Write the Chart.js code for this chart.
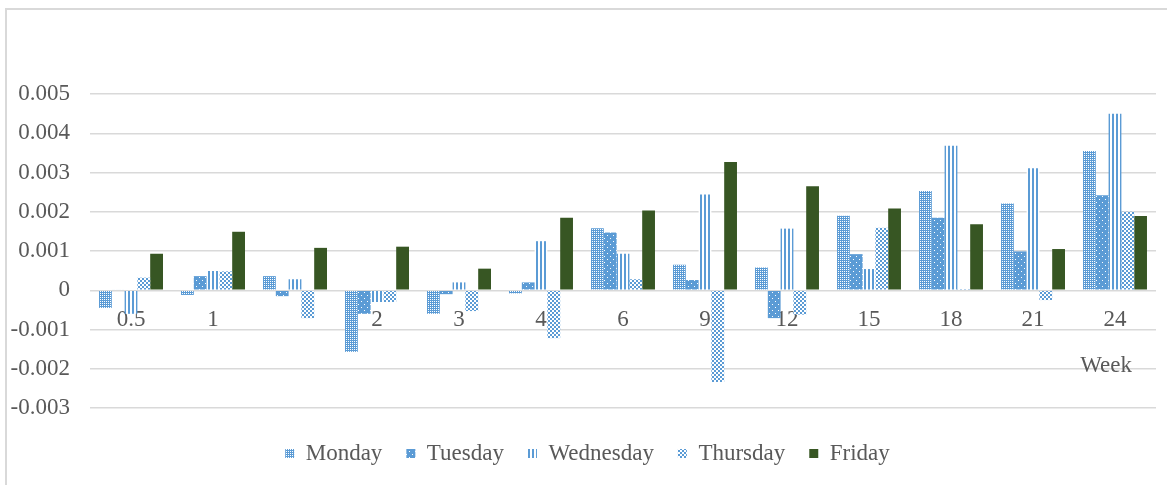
<!DOCTYPE html>
<html>
<head>
<meta charset="utf-8">
<script src="https://cdn.jsdelivr.net/npm/chart.js@4/dist/chart.umd.min.js"></script>
<style>
  html, body { margin: 0; padding: 0; background: #ffffff; }
  #wrap { position: relative; width: 1167px; height: 485px; }
</style>
</head>
<body>
<div id="wrap"><canvas id="chart" width="1167" height="485"></canvas></div>
<script>
// Weekly effect by weekday, across the study weeks
const weeks = ['0.5', '1', '', '2', '3', '4', '6', '9', '12', '15', '18', '21', '24'];
const monday    = [-0.00045, -0.00012, 0.00036, -0.00157, -0.00060, -0.00008, 0.00158, 0.00065, 0.00058, 0.00190, 0.00253, 0.00221, 0.00355];
const tuesday   = [0.00002, 0.00036, -0.00015, -0.00060, -0.00010, 0.00020, 0.00147, 0.00026, -0.00071, 0.00092, 0.00185, 0.00099, 0.00242];
const wednesday = [-0.00060, 0.00049, 0.00028, -0.00030, 0.00020, 0.00125, 0.00093, 0.00244, 0.00157, 0.00054, 0.00368, 0.00311, 0.00450];
const thursday  = [0.00032, 0.00048, -0.00071, -0.00030, -0.00053, -0.00122, 0.00028, -0.00234, -0.00062, 0.00159, 0.00003, -0.00025, 0.00200];
const friday    = [0.00093, 0.00149, 0.00108, 0.00111, 0.00055, 0.00185, 0.00203, 0.00327, 0.00265, 0.00208, 0.00168, 0.00105, 0.00189];
const seriesNames = ['Monday', 'Tuesday', 'Wednesday', 'Thursday', 'Friday'];
const xTitle = 'Week';

const BLUE = '#5b9bd5';
const GREEN = '#375623';
const TEXT = '#595959';
const GRID = '#d9d9d9';
const FONT = '"Times New Roman", "Liberation Serif", serif';

// Tiled fills for the blue series
function tile(w, h, draw) {
  const c = document.createElement('canvas');
  c.width = w; c.height = h;
  const g = c.getContext('2d');
  g.fillStyle = '#ffffff';
  g.fillRect(0, 0, w, h);
  g.fillStyle = BLUE;
  draw(g);
  return c.getContext('2d').createPattern(c, 'repeat');
}
const ctx = document.getElementById('chart').getContext('2d');
const fineChecker = tile(2, 2, g => { g.fillRect(0, 0, 2, 1); g.fillRect(1, 1, 1, 1); });
const dottedSolid = tile(6, 6, g => {
  g.fillRect(0, 0, 6, 6);
  g.fillStyle = '#ffffff';
  g.fillRect(1, 1, 1, 1);
  g.fillRect(4, 4, 1, 1);
});
const vStripes = tile(4, 1, g => { g.fillRect(0, 0, 2, 1); });
const bigChecker = tile(4, 4, g => { g.fillRect(0, 0, 2, 2); g.fillRect(2, 2, 2, 2); });

const fills = [fineChecker, dottedSolid, vStripes, bigChecker, GREEN];
const values = [monday, tuesday, wednesday, thursday, friday];

// Outer frame lines and the axis caption
const decorations = {
  id: 'decorations',
  beforeDraw(chart) {
    const c = chart.ctx;
    c.save();
    c.strokeStyle = GRID;
    c.lineWidth = 2;
    c.beginPath();
    c.moveTo(6, chart.height);
    c.lineTo(6, 9);
    c.lineTo(chart.width, 9);
    c.stroke();
    c.restore();
  },
  afterDraw(chart) {
    const c = chart.ctx;
    const a = chart.chartArea;
    c.save();
    c.font = '23px ' + FONT;
    c.fillStyle = TEXT;
    c.textAlign = 'right';
    c.textBaseline = 'middle';
    c.fillText(xTitle, a.right - 24, a.top + 272);
    c.restore();
  }
};

new Chart(ctx, {
  type: 'bar',
  data: {
    labels: weeks,
    datasets: seriesNames.map((name, i) => ({
      label: name,
      data: values[i],
      backgroundColor: fills[i],
      borderWidth: 0,
      categoryPercentage: 0.78,
      barPercentage: 1.0
    }))
  },
  options: {
    responsive: false,
    animation: false,
    devicePixelRatio: 1,
    layout: { padding: { top: 94, right: 0, left: 8, bottom: 10 } },
    plugins: {
      legend: {
        position: 'bottom',
        labels: {
          boxWidth: 9,
          boxHeight: 9,
          padding: 24,
          color: TEXT,
          font: { family: FONT, size: 23 }
        }
      },
      tooltip: { enabled: false },
      title: { display: false }
    },
    scales: {
      x: {
        position: { y: 0 },
        grid: { display: false, drawTicks: false },
        border: { display: false },
        ticks: {
          color: TEXT,
          font: { family: FONT, size: 23 },
          padding: 16,
          maxRotation: 0,
          autoSkip: false
        }
      },
      // empty band between the plot and the legend
      gap: {
        type: 'category',
        position: 'bottom',
        grid: { display: false, drawTicks: false },
        border: { display: false },
        ticks: { display: false },
        afterFit(scale) { scale.height = 10; }
      },
      y: {
        min: -0.003,
        max: 0.005,
        grid: { color: GRID, lineWidth: 1.5, drawTicks: false },
        border: { display: false },
        afterFit(scale) { scale.width = 82; },
        ticks: {
          stepSize: 0.001,
          padding: 20,
          color: TEXT,
          font: { family: FONT, size: 23 },
          callback: v => (Math.abs(v) < 1e-9 ? '0' : v.toFixed(3))
        }
      },
      // empty margin to the right of the plot
      edge: {
        type: 'linear',
        position: 'right',
        grid: { display: false, drawTicks: false },
        border: { display: false },
        ticks: { display: false },
        afterFit(scale) { scale.width = 11; }
      }
    }
  },
  plugins: [decorations]
});
</script>
</body>
</html>
